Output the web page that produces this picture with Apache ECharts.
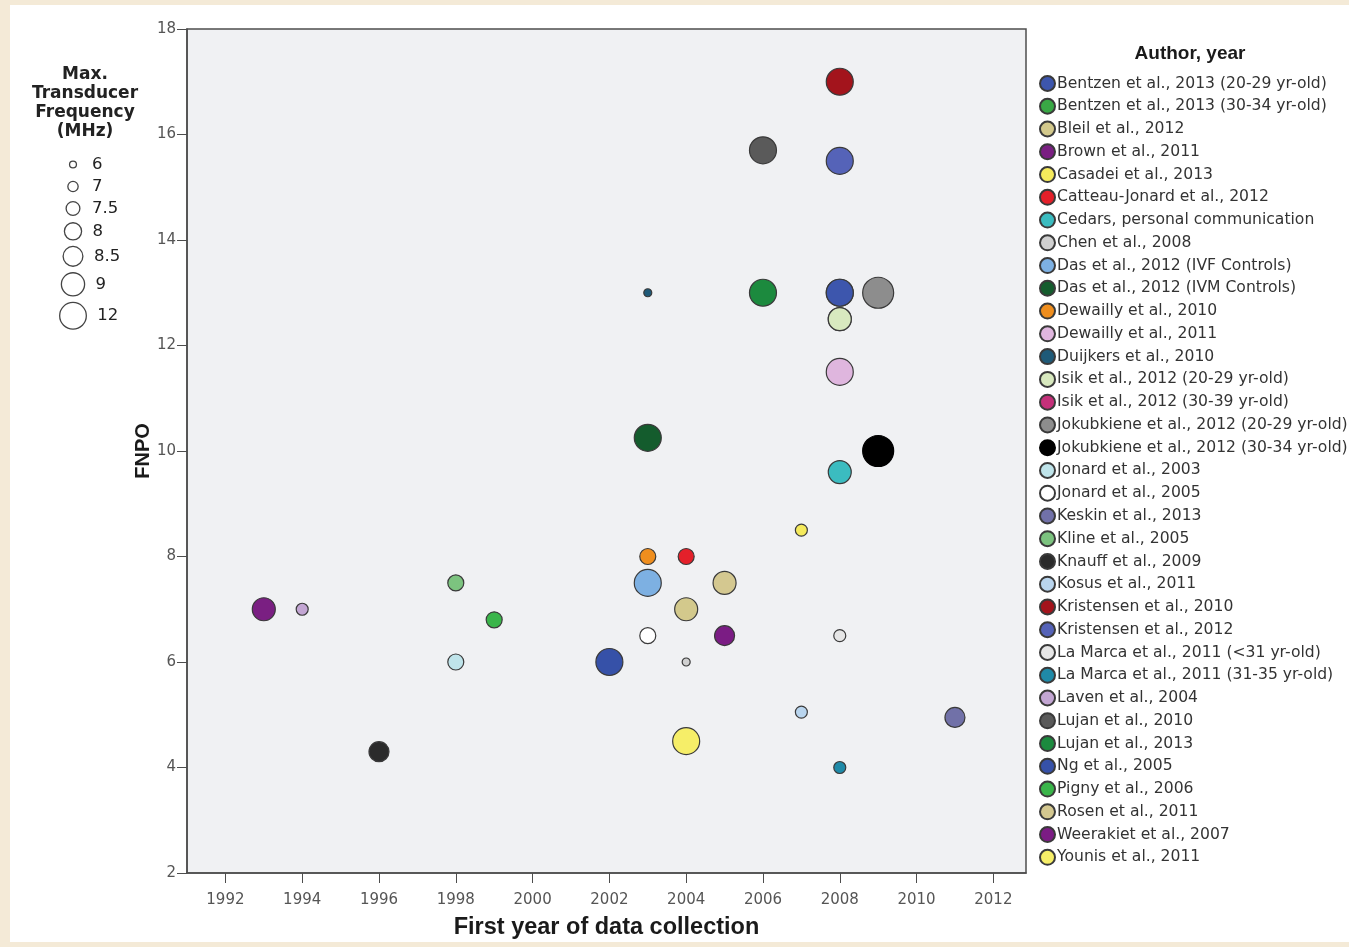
<!DOCTYPE html>
<html>
<head>
<meta charset="utf-8">
<title>FNPO by first year of data collection</title>
<script src="https://cdn.jsdelivr.net/npm/echarts@6/dist/echarts.min.js"></script>
<style>
  html, body { margin: 0; padding: 0; background: #f4ead7; }
  #chart { position: absolute; left: 10px; top: 5px; width: 1339px; height: 937px; background: #fff; }
</style>
</head>
<body>
<div id="chart"></div>
<script>
// data
const authors = [
  'Bentzen et al., 2013 (20-29 yr-old)',
  'Bentzen et al., 2013 (30-34 yr-old)',
  'Bleil et al., 2012',
  'Brown et al., 2011',
  'Casadei et al., 2013',
  'Catteau-Jonard et al., 2012',
  'Cedars, personal communication',
  'Chen et al., 2008',
  'Das et al., 2012 (IVF Controls)',
  'Das et al., 2012 (IVM Controls)',
  'Dewailly et al., 2010',
  'Dewailly et al., 2011',
  'Duijkers et al., 2010',
  'Isik et al., 2012 (20-29 yr-old)',
  'Isik et al., 2012 (30-39 yr-old)',
  'Jokubkiene et al., 2012 (20-29 yr-old)',
  'Jokubkiene et al., 2012 (30-34 yr-old)',
  'Jonard et al., 2003',
  'Jonard et al., 2005',
  'Keskin et al., 2013',
  'Kline et al., 2005',
  'Knauff et al., 2009',
  'Kosus et al., 2011',
  'Kristensen et al., 2010',
  'Kristensen et al., 2012',
  'La Marca et al., 2011 (<31 yr-old)',
  'La Marca et al., 2011 (31-35 yr-old)',
  'Laven et al., 2004',
  'Lujan et al., 2010',
  'Lujan et al., 2013',
  'Ng et al., 2005',
  'Pigny et al., 2006',
  'Rosen et al., 2011',
  'Weerakiet et al., 2007',
  'Younis et al., 2011'
];
const firstYear = [2008, 2008, 2004, 1993, 2007, 2004, 2008, 2004, 2003, 2003, 2003, 2008, 2003, 2008, 2008,
  2009, 2009, 1998, 2003, 2011, 1998, 1996, 2007, 2008, 2008, 2008, 2008, 1994, 2006, 2006, 2002, 1999, 2005, 2005, 2004];
const fnpo = [13, 13, 7, 7, 8.5, 8, 9.6, 6, 7.5, 10.25, 8, 11.5, 13, 12.5, 12.5,
  13, 10, 6, 6.5, 4.95, 7.5, 4.3, 5.05, 17, 15.5, 6.5, 4, 7, 15.7, 13, 6, 6.8, 7.5, 6.5, 4.5];
const maxFreq = [9, 9, 8.5, 8.5, 7, 7.5, 8.5, 6, 9, 9, 7.5, 9, 6, 8.5, 8.5,
  12, 12, 7.5, 7.5, 8, 7.5, 8, 7, 9, 9, 7, 7, 7, 9, 9, 9, 7.5, 8.5, 8, 9];
const freqLevels = [6, 7, 7.5, 8, 8.5, 9, 12];
const yearTicks = [1992, 1994, 1996, 1998, 2000, 2002, 2004, 2006, 2008, 2010, 2012];

// styles
const colors = ['#3d56ad', '#39a845', '#d3c98c', '#7a1f82', '#f5ea5c', '#e4202a', '#3bbcc0', '#d0d0d0',
  '#7db0e2', '#145c2d', '#ef8e1e', '#dfb6de', '#1f5a78', '#d8e9bf', '#c4307a', '#8d8d8d', '#000000',
  '#bfe4ea', '#ffffff', '#7171a8', '#7cc37f', '#2b2b2b', '#b9d5ee', '#a3141c', '#5563b8', '#e6e6e6',
  '#1f8aa8', '#c3a6d3', '#5a5a5a', '#1c8a3e', '#3651a8', '#3ab54a', '#d4c890', '#7b1c84', '#f6ee68'];
const sizeByFreq = { 6: 8, 7: 12, 7.5: 16, 8: 20, 8.5: 23, 9: 27, 12: 31 };
// points fully covered by another study's marker in the figure
const underneath = ['Bentzen et al., 2013 (30-34 yr-old)', 'Isik et al., 2012 (30-39 yr-old)'];

const FONT = 'DejaVu Sans';

const series = authors.map((name, i) => ({
  name: name,
  type: 'scatter',
  z: underneath.includes(name) ? 1 : 2,
  data: [[firstYear[i], fnpo[i], maxFreq[i]]],
  symbol: 'circle',
  symbolSize: v => sizeByFreq[v[2]],
  itemStyle: {
    color: colors[i],
    borderColor: colors[i] === '#000000' ? '#000' : '#3a3a3a',
    borderWidth: 1.2,
    opacity: 1
  },
  emphasis: { disabled: true }
}));

// size legend (Max. Transducer Frequency)
const sizeLegend = [];
const titleLines = ['Max.', 'Transducer', 'Frequency', '(MHz)'];
titleLines.forEach((t, i) => {
  sizeLegend.push({
    type: 'text', x: 75, y: 70 + i * 19,
    style: { text: t, align: 'center', verticalAlign: 'middle', fontFamily: FONT, fontWeight: 'bold', fontSize: 17, fill: '#222' }
  });
});
let cy = 159.5;
let prevH = null;
freqLevels.forEach((f, i) => {
  const d = sizeByFreq[f] * 0.86;
  const rowH = Math.max(22, d + 6.5);
  if (prevH !== null) cy += (prevH + rowH) / 2;
  prevH = rowH;
  sizeLegend.push({
    type: 'circle', shape: { cx: 63, cy: cy, r: d / 2 },
    style: { fill: '#fff', stroke: '#444', lineWidth: 1.3 }
  });
  sizeLegend.push({
    type: 'text', x: 63 + Math.max(d / 2, 8) + 11, y: cy,
    style: { text: String(f), fontFamily: FONT, fontSize: 16.5, fill: '#222', verticalAlign: 'middle' }
  });
});

const chart = echarts.init(document.getElementById('chart'), null, { renderer: 'canvas' });
chart.setOption({
  animation: false,
  backgroundColor: '#ffffff',
  textStyle: { fontFamily: FONT },
  grid: {
    left: 177, top: 24, right: 323, bottom: 69,
    outerBoundsMode: 'none',
    show: true, backgroundColor: '#f0f1f3', borderColor: '#4d4d4d', borderWidth: 1.5
  },
  xAxis: {
    type: 'value',
    min: 1991, max: 2012.85,
    name: 'First year of data collection',
    nameLocation: 'middle', nameGap: 43, nameMoveOverlap: false,
    nameTextStyle: { fontFamily: 'Liberation Sans', fontWeight: 'bold', fontSize: 23.5, color: '#1a1a1a' },
    axisLine: { show: true, lineStyle: { color: '#4d4d4d', width: 1.5 } },
    axisTick: { show: true, length: 10, lineStyle: { color: '#4d4d4d' }, customValues: yearTicks },
    axisLabel: { margin: 20, fontSize: 15, color: '#555', customValues: yearTicks, formatter: v => String(v) },
    splitLine: { show: false }
  },
  yAxis: {
    type: 'value',
    min: 2, max: 18, interval: 2,
    name: 'FNPO',
    nameLocation: 'middle', nameGap: 34, nameRotate: 90, nameMoveOverlap: false,
    nameTextStyle: { fontFamily: 'Liberation Sans', fontWeight: 'bold', fontSize: 20, color: '#1a1a1a' },
    axisLine: { show: true, lineStyle: { color: '#4d4d4d', width: 1.5 } },
    axisTick: { show: true, length: 10, lineStyle: { color: '#4d4d4d' } },
    axisLabel: { margin: 11, fontSize: 15, color: '#555', showMinLabel: true, showMaxLabel: true },
    splitLine: { show: false }
  },
  legend: {
    orient: 'vertical',
    left: 1024, top: 65,
    itemWidth: 15, itemHeight: 15, itemGap: 5.76,
    icon: 'circle',
    selectedMode: false,
    data: authors,
    textStyle: { fontFamily: FONT, fontSize: 15.6, lineHeight: 16, color: '#333', padding: [0, 0, 0, -3] }
  },
  graphic: [
    {
      type: 'text', x: 1180, y: 49,
      style: { text: 'Author, year', fontFamily: 'Liberation Sans', fontWeight: 'bold', fontSize: 19, fill: '#1a1a1a', align: 'center', verticalAlign: 'middle' }
    },
    ...sizeLegend
  ],
  series: series
});
</script>
</body>
</html>
